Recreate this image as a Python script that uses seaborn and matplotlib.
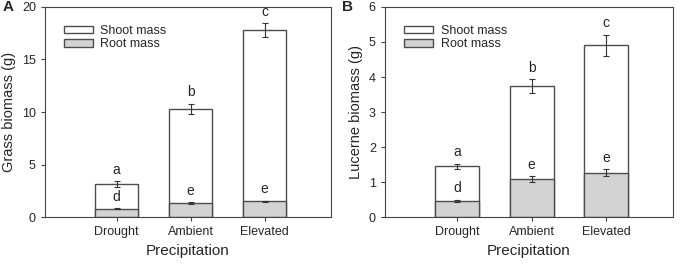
import matplotlib
matplotlib.use("Agg")
import matplotlib.pyplot as plt
import seaborn as sns
import pandas as pd
from matplotlib.patches import Patch

sns.set_style("ticks")
plt.rcParams['font.family'] = ['Liberation Sans', 'DejaVu Sans']

categories = ["Drought", "Ambient", "Elevated"]

# Panel A: grass
grass_total = [3.15, 10.3, 17.8]
grass_total_err = [0.25, 0.5, 0.7]
grass_root = [0.78, 1.35, 1.52]
grass_root_err = [0.05, 0.06, 0.05]
grass_total_letters = ["a", "b", "c"]
grass_root_letters = ["d", "e", "e"]

# Panel B: lucerne
luc_total = [1.45, 3.75, 4.9]
luc_total_err = [0.08, 0.2, 0.31]
luc_root = [0.47, 1.09, 1.27]
luc_root_err = [0.03, 0.08, 0.11]
luc_total_letters = ["a", "b", "c"]
luc_root_letters = ["d", "e", "e"]

fig = plt.figure(figsize=(6.8, 2.68), dpi=100)
axA = fig.add_axes([0.066, 0.19, 0.421, 0.784])
axB = fig.add_axes([0.566, 0.19, 0.424, 0.784])

edge = "#4d4d4d"

def panel(ax, total, terr, root, rerr, tl, rl, ylim, yticks, ylabel, letter, lofs):
    df_t = pd.DataFrame({"cat": categories, "val": total})
    df_r = pd.DataFrame({"cat": categories, "val": root})
    sns.barplot(data=df_t, x="cat", y="val", order=categories, color="white",
                edgecolor=edge, linewidth=1.0, width=0.59, ax=ax, errorbar=None,
                saturation=1)
    sns.barplot(data=df_r, x="cat", y="val", order=categories, color="#d3d3d3",
                edgecolor=edge, linewidth=1.0, width=0.59, ax=ax, errorbar=None,
                saturation=1)
    xs = range(len(categories))
    ax.errorbar(list(xs), total, yerr=terr, fmt="none", ecolor="#333333",
                elinewidth=0.8, capsize=2.5, capthick=0.8)
    ax.errorbar(list(xs), root, yerr=rerr, fmt="none", ecolor="#333333",
                elinewidth=0.8, capsize=2.5, capthick=0.8)
    for i in xs:
        ax.annotate(tl[i], (i, total[i] + terr[i]), xytext=(0, 3),
                    textcoords="offset points", ha="center", va="bottom", fontsize=10)
        ax.annotate(rl[i], (i, root[i] + rerr[i]), xytext=(0, 3),
                    textcoords="offset points", ha="center", va="bottom", fontsize=10)
    ax.set_xlim(-0.97, 2.9)
    ax.set_ylim(*ylim)
    ax.set_yticks(yticks)
    ax.set_xlabel("Precipitation", fontsize=11)
    ax.set_ylabel(ylabel, fontsize=10.5)
    ax.tick_params(axis="both", labelsize=9, length=3, color="#444444", width=0.8)
    for s in ax.spines.values():
        s.set_color("#444444")
        s.set_linewidth(0.8)
        s.set_visible(True)
    handles = [Patch(facecolor="white", edgecolor=edge, linewidth=1.0, label="Shoot mass"),
               Patch(facecolor="#d3d3d3", edgecolor=edge, linewidth=1.0, label="Root mass")]
    ax.legend(handles=handles, loc="upper left", bbox_to_anchor=(0.05, 0.94),
              frameon=False, fontsize=9, handlelength=2.3, handleheight=0.5,
              labelspacing=0.15, handletextpad=0.6, borderaxespad=0)
    ax.text(lofs, 1.0, letter, transform=ax.transAxes, fontsize=11, fontweight="bold",
            ha="left", va="center")

panel(axA, grass_total, grass_total_err, grass_root, grass_root_err,
      grass_total_letters, grass_root_letters, (0, 20), [0, 5, 10, 15, 20],
      "Grass biomass (g)", "A", -0.148)
panel(axB, luc_total, luc_total_err, luc_root, luc_root_err,
      luc_total_letters, luc_root_letters, (0, 6), [0, 1, 2, 3, 4, 5, 6],
      "Lucerne biomass (g)", "B", -0.15)

fig.savefig("out.png", dpi=100)
